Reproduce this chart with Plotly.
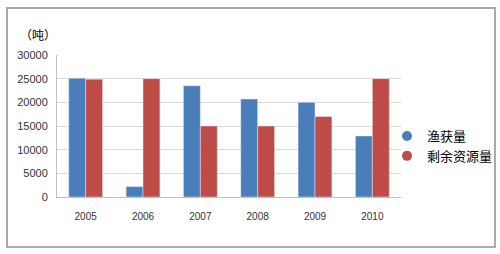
import plotly.graph_objects as go

years = ["2005", "2006", "2007", "2008", "2009", "2010"]
catch = [25100, 2200, 23500, 20700, 20000, 12900]
remaining = [24900, 25000, 15000, 15000, 17000, 25000]
series_names = ["渔获量", "剩余资源量"]
colors = ["#4A7EBB", "#BE4B48"]
y_ticks = [0, 5000, 10000, 15000, 20000, 25000, 30000]

W, H = 500, 254
L, R, T, B = 57, 99, 55, 57
pw, ph = W - L - R, H - T - B

def px(x):
    return (x - L) / pw

def py(y):
    return (H - B - y) / ph

fig = go.Figure()
for vals, name, col in zip([catch, remaining], series_names, colors):
    fig.add_trace(go.Bar(x=years, y=vals, name=name, marker_color=col, showlegend=False))
# legend entries with round markers
for name, col in zip(series_names, colors):
    fig.add_trace(go.Scatter(x=[None], y=[None], mode="markers", name=name,
                             marker=dict(symbol="circle", size=10, color=col)))

fig.update_layout(
    width=W, height=H,
    margin=dict(l=L, r=R, t=T, b=B, autoexpand=False),
    paper_bgcolor="white", plot_bgcolor="white",
    barmode="group", bargap=0.41, bargroupgap=0,
    font=dict(family="Liberation Sans, Arial, sans-serif", color="#333333"),
    xaxis=dict(showgrid=False, showline=True, linecolor="#BFBFBF", linewidth=1,
               tickfont=dict(size=10, color="#333333"), ticks="", ticklabelstandoff=10),
    yaxis=dict(range=[0, 30000], tickvals=y_ticks, tickformat="d", showgrid=True,
               gridcolor="#D9D9D9", gridwidth=1, showline=True, linecolor="#BFBFBF",
               linewidth=1, tickfont=dict(size=11, color="#333333"), ticks="",
               zeroline=False, ticklabelstandoff=6),
    legend=dict(x=px(387), y=py(121), xanchor="left", yanchor="top",
                font=dict(size=13, color="#000000",
                          family="Noto Sans CJK SC, sans-serif"),
                itemwidth=30, tracegroupgap=0, bgcolor="rgba(0,0,0,0)"),
    showlegend=True,
)

fig.add_annotation(text="（吨）", x=px(38), y=py(34), xref="paper", yref="paper",
                   xanchor="center", yanchor="middle", showarrow=False,
                   font=dict(size=12, color="#000000",
                             family="Noto Sans CJK SC, sans-serif"))

fig.add_shape(type="rect", xref="paper", yref="paper",
              x0=px(7), x1=px(495), y0=py(247), y1=py(8),
              line=dict(color="#AAAAAA", width=2), fillcolor="rgba(0,0,0,0)", layer="below")

fig.write_html("out.html")
